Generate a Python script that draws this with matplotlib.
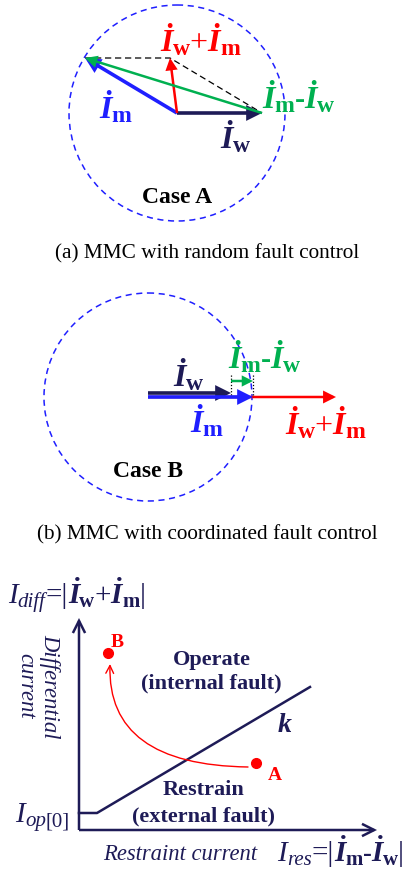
import matplotlib
matplotlib.use('Agg')
import matplotlib.pyplot as plt
from matplotlib.patches import Circle, FancyArrowPatch
from matplotlib.path import Path
from matplotlib.transforms import IdentityTransform
import numpy as np

# ---------------- data ----------------
# Case A phasors (drawing units, x right, y up)
case_a_Iw = np.array([85.0, 0.0])
case_a_Im = np.array([-92.0, 55.0])
# Case B phasors (in phase)
case_b_Iw = np.array([83.0, 0.0])
case_b_Im = np.array([105.0, 0.0])
# Characteristic: restraint vs differential current
char_x = [0, 18, 231]
char_y = [17, 17, 143]
point_A = (177, 67)
point_B = (29, 177)
captions = ["(a) MMC with random fault control", "(b) MMC with coordinated fault control"]

# ---------------- style ----------------
NAVY = '#1e1b57'
BLUE = '#1f1fff'
RED = '#ff0000'
GREEN = '#00b050'
SERIF = 'Liberation Serif'

W, H = 407, 871
fig = plt.figure(figsize=(W / 100, H / 100), dpi=100)
ax = fig.add_axes([0, 0, 1, 1])
ax.set_xlim(0, W)
ax.set_ylim(H, 0)
ax.axis('off')
renderer = fig.canvas.get_renderer()


def rich(x, y, parts, ha='left'):
    """Draw text pieces in sequence; (x, y) is the baseline point."""
    X, Y = ax.transData.transform((x, y))
    items = []
    for s, kw in parts:
        kw = dict(kw)
        dy = kw.pop('dy', 0)
        t = ax.text(0, 0, s, transform=IdentityTransform(), ha='left',
                    va='baseline', family=SERIF, **kw)
        w = t.get_window_extent(renderer).width
        items.append((t, dy, w))
    total = sum(i[2] for i in items)
    if ha == 'center':
        cx = X - total / 2
    elif ha == 'right':
        cx = X - total
    else:
        cx = X
    for t, dy, w in items:
        t.set_position((cx, Y - dy))
        cx += w


VS = 23   # vector label size
SS = 17   # subscript size


def I(c, size=VS):
    return ('\u0130', dict(color=c, size=size, style='italic', weight='bold'))


def sub(s, c, size=SS, dy=4):
    return (s, dict(color=c, size=size, weight='bold', dy=dy))


def op(s, c, size=VS, weight='normal'):
    return (s, dict(color=c, size=size, weight=weight))


def arrow(p0, p1, color, lw, ms=16, style='-|>', z=3, ls='-'):
    a = FancyArrowPatch(p0, p1, arrowstyle=style, mutation_scale=ms,
                        color=color, lw=lw, shrinkA=0, shrinkB=0, zorder=z,
                        joinstyle='miter', capstyle='butt', linestyle=ls)
    ax.add_patch(a)


def to_screen(origin, v):
    return (origin[0] + v[0], origin[1] - v[1])

# ---------------- Case A ----------------
oA = (177, 113)
ax.add_patch(Circle(oA, 108, fill=False, ec=BLUE, lw=1.1, ls=(0, (4, 3))))
tipW = to_screen(oA, case_a_Iw)
tipM = to_screen(oA, case_a_Im)
tipS = to_screen(oA, case_a_Iw + case_a_Im)
ax.plot([tipM[0], tipS[0], tipW[0]], [tipM[1], tipS[1], tipW[1]],
        color='black', lw=0.9, ls=(0, (5, 3)), zorder=2)
arrow(oA, tipW, NAVY, 2.6, ms=18)
arrow(oA, tipM, BLUE, 2.6, ms=18)
arrow(oA, tipS, RED, 1.8, ms=15)
arrow(tipW, tipM, GREEN, 1.8, ms=15, z=4)

rich(160, 51, [I(RED), sub('w', RED), op('+', RED), I(RED), sub('m', RED)])
rich(99, 118, [I(BLUE), sub('m', BLUE)])
rich(220, 148, [I(NAVY), sub('w', NAVY)])
rich(262, 108, [I(GREEN), sub('m', GREEN), op('-', GREEN, 22, 'bold'),
                I(GREEN), sub('w', GREEN)])
rich(177, 203, [('Case A', dict(color='black', size=17, weight='bold'))], ha='center')
rich(207, 258, [(captions[0], dict(color='black', size=15.3))], ha='center')

# ---------------- Case B ----------------
oB = (148, 397)
ax.add_patch(Circle(oB, 104, fill=False, ec=BLUE, lw=1.1, ls=(0, (4, 3))))
arrow(oB, to_screen(oB, case_b_Iw + case_b_Im), RED, 1.8, ms=16, z=2)
oBw = (oB[0], oB[1] - 4)
arrow(oBw, to_screen(oBw, case_b_Iw), NAVY, 2.6, ms=18)
arrow(oB, to_screen(oB, case_b_Im), BLUE, 2.6, ms=18)
xw = to_screen(oB, case_b_Iw)[0]
xm = to_screen(oB, case_b_Im)[0]
for xx in (xw, xm):
    ax.plot([xx, xx], [375, 397], color='black', lw=0.9, ls=(0, (1, 1.5)), zorder=2)
arrow((xw, 381), (xm, 381), GREEN, 1.8, ms=13)

rich(173, 386, [I(NAVY), sub('w', NAVY)])
rich(190, 432, [I(BLUE), sub('m', BLUE)])
rich(228, 368, [I(GREEN), sub('m', GREEN), op('-', GREEN, 22, 'bold'),
                I(GREEN), sub('w', GREEN)])
rich(285, 434, [I(RED), sub('w', RED), op('+', RED), I(RED), sub('m', RED)])
rich(148, 477, [('Case B', dict(color='black', size=17, weight='bold'))], ha='center')
rich(207, 539, [(captions[1], dict(color='black', size=15.3))], ha='center')

# ---------------- Characteristic ----------------
oC = (79, 830)


def c2s(x, y):
    return (oC[0] + x, oC[1] - y)

arrow(c2s(0, 0), c2s(0, 212), NAVY, 1.8, ms=22, style='->')
arrow(c2s(0, 0), c2s(298, 0), NAVY, 1.8, ms=22, style='->')
pts = [c2s(x, y) for x, y in zip(char_x, char_y)]
ax.plot([p[0] for p in pts], [p[1] for p in pts], color=NAVY, lw=1.8, zorder=3)

pa = c2s(*point_A)
pb = c2s(*point_B)
ax.plot([pa[0], pb[0]], [pa[1], pb[1]], 'o', color=RED, ms=7, zorder=4)
curve = Path([c2s(169, 63), c2s(28, 65), c2s(31, 166)],
             [Path.MOVETO, Path.CURVE3, Path.CURVE3])
ax.add_patch(FancyArrowPatch(path=curve, arrowstyle='->', mutation_scale=14,
                             color=RED, lw=1.0, zorder=4))
rich(117, 647, [('B', dict(color=RED, size=14, weight='bold'))], ha='center')
rich(275, 780, [('A', dict(color=RED, size=14, weight='bold'))], ha='center')

rich(212, 665, [('Operate', dict(color=NAVY, size=16, weight='bold'))], ha='center')
rich(211, 688, [('(internal fault)', dict(color=NAVY, size=16, weight='bold'))], ha='center')
rich(203, 795, [('Restrain', dict(color=NAVY, size=16, weight='bold'))], ha='center')
rich(204, 821, [('(external fault)', dict(color=NAVY, size=16, weight='bold'))], ha='center')
rich(285, 732, [('k', dict(color=NAVY, size=20, weight='bold', style='italic'))], ha='center')

rich(8, 603, [('I', dict(color=NAVY, size=21, style='italic')),
              ('diff', dict(color=NAVY, size=15, style='italic', dy=4)),
              ('=|', dict(color=NAVY, size=21)),
              I(NAVY, 21), sub('w', NAVY, 15), op('+', NAVY, 21), I(NAVY, 21), sub('m', NAVY, 15),
              ('|', dict(color=NAVY, size=21))])
rich(70, 822, [('I', dict(color=NAVY, size=21, style='italic')),
               ('op', dict(color=NAVY, size=15, style='italic', dy=4)),
               ('[0]', dict(color=NAVY, size=15, dy=4))], ha='right')
rich(180, 860, [('Restraint current', dict(color=NAVY, size=16.3, style='italic'))], ha='center')
rich(277, 861, [('I', dict(color=NAVY, size=21, style='italic')),
                ('res', dict(color=NAVY, size=15, style='italic', dy=4)),
                ('=|', dict(color=NAVY, size=21)),
                I(NAVY, 21), sub('m', NAVY, 15), ('-', dict(color=NAVY, size=19, weight='bold')),
                I(NAVY, 21), sub('w', NAVY, 15),
                ('|', dict(color=NAVY, size=21))])
ax.text(38, 686, 'Differential\ncurrent', rotation=-90, ha='center', va='center',
        multialignment='center', family=SERIF, style='italic', size=16.3,
        color=NAVY, linespacing=1.2)

fig.savefig('out.png', dpi=100)
